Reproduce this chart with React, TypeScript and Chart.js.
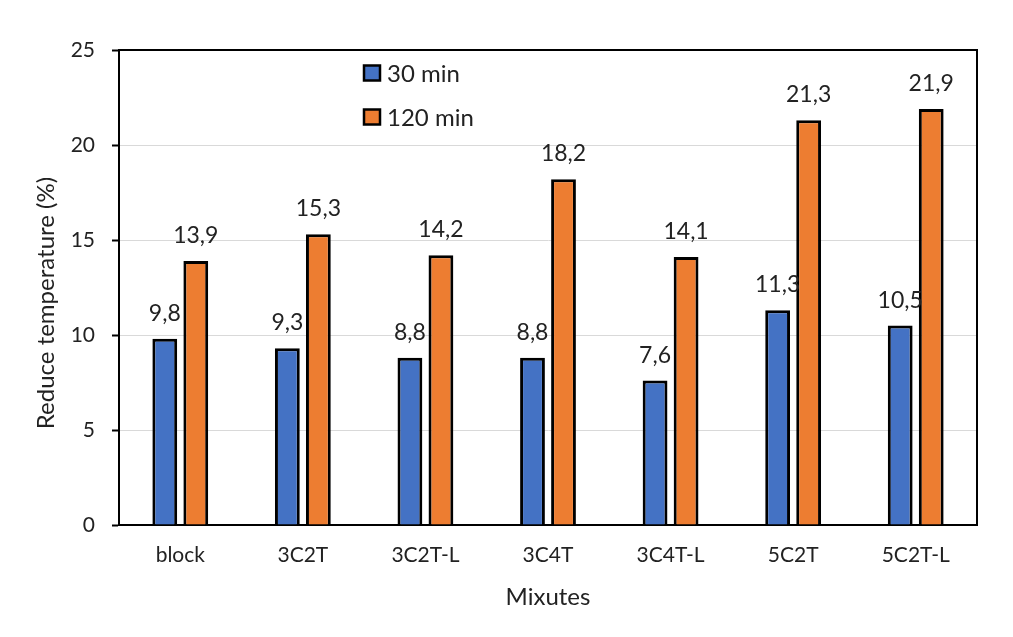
import React, { useEffect, useRef } from 'react';
import { Chart, registerables } from 'chart.js';

Chart.register(...registerables);

// Mixture names along the x axis
const categories = ['block', '3C2T', '3C2T-L', '3C4T', '3C4T-L', '5C2T', '5C2T-L'];
// Temperature reduction (%) after 30 and 120 minutes
const min30 = [9.8, 9.3, 8.8, 8.8, 7.6, 11.3, 10.5];
const min120 = [13.9, 15.3, 14.2, 18.2, 14.1, 21.3, 21.9];
const seriesNames = ['30 min', '120 min'];
const yMin = 0;
const yMax = 25;
const yStep = 5;
const yTitle = 'Reduce temperature (%)';
const xTitle = 'Mixutes';

const FONT = 'Lato, "Open Sans", "DejaVu Sans", sans-serif';
const TEXT = '#222222';
const BLUE = '#4472C4';
const ORANGE = '#ED7D31';

const fmt = (v: number) => v.toFixed(1).replace('.', ',');

// Value labels above each bar
const valueLabels = {
  id: 'valueLabels',
  afterDatasetsDraw(chart: any) {
    const ctx = chart.ctx;
    ctx.save();
    ctx.font = `23px ${FONT}`;
    ctx.fillStyle = TEXT;
    ctx.textAlign = 'center';
    ctx.textBaseline = 'alphabetic';
    chart.data.datasets.forEach((ds: any, i: number) => {
      const meta = chart.getDatasetMeta(i);
      meta.data.forEach((el: any, j: number) => {
        ctx.fillText(fmt(ds.data[j]), el.x, el.y - 18);
      });
    });
    ctx.restore();
  },
};

// Top and right edges of the plot frame, the y-axis title and the in-plot legend
const frameAndLegend = {
  id: 'frameAndLegend',
  afterDraw(chart: any) {
    const { ctx, chartArea: a } = chart;
    ctx.save();
    ctx.strokeStyle = '#000';
    ctx.lineWidth = 2;
    ctx.beginPath();
    ctx.moveTo(a.left, a.top);
    ctx.lineTo(a.right, a.top);
    ctx.lineTo(a.right, a.bottom);
    ctx.stroke();

    // y-axis title
    ctx.save();
    ctx.translate(46, 303);
    ctx.rotate(-Math.PI / 2);
    ctx.font = `24px ${FONT}`;
    ctx.fillStyle = TEXT;
    ctx.textAlign = 'center';
    ctx.textBaseline = 'middle';
    ctx.fillText(yTitle, 0, 0);
    ctx.restore();

    // legend
    const x0 = a.left + 245;
    const rows = [a.top + 23, a.top + 67];
    ctx.font = `24px ${FONT}`;
    ctx.textBaseline = 'middle';
    ctx.textAlign = 'left';
    chart.data.datasets.forEach((ds: any, i: number) => {
      const cy = rows[i];
      ctx.fillStyle = ds.backgroundColor;
      ctx.fillRect(x0, cy - 7.5, 16, 15);
      ctx.lineWidth = 2.5;
      ctx.strokeStyle = '#000';
      ctx.strokeRect(x0, cy - 7.5, 16, 15);
      ctx.fillStyle = TEXT;
      ctx.fillText(ds.label, x0 + 23, cy + 1);
    });
    ctx.restore();
  },
};

export default function App() {
  const ref = useRef<HTMLCanvasElement | null>(null);

  useEffect(() => {
    if (!ref.current) return;
    const chart = new Chart(ref.current, {
      type: 'bar',
      data: {
        labels: categories,
        datasets: [
          {
            label: seriesNames[0],
            data: min30,
            backgroundColor: BLUE,
            borderColor: '#000',
            borderWidth: 3,
            categoryPercentage: 0.506,
            barPercentage: 0.8,
          },
          {
            label: seriesNames[1],
            data: min120,
            backgroundColor: ORANGE,
            borderColor: '#000',
            borderWidth: 3,
            categoryPercentage: 0.506,
            barPercentage: 0.8,
          },
        ],
      },
      options: {
        responsive: false,
        animation: false,
        layout: { padding: { left: 0, right: 36, top: 50, bottom: 0 } },
        plugins: {
          legend: { display: false },
          tooltip: { enabled: false },
        },
        scales: {
          x: {
            grid: { display: false, drawTicks: false },
            border: { display: true, color: '#000', width: 2 },
            ticks: {
              color: TEXT,
              font: { family: FONT, size: 21 },
              padding: 18,
            },
            title: {
              display: true,
              text: xTitle,
              color: TEXT,
              font: { family: FONT, size: 24 },
              padding: { top: 0, bottom: 25 },
            },
            afterFit(scale: any) {
              scale.height = 112;
            },
          },
          y: {
            min: yMin,
            max: yMax,
            grid: {
              color: '#d9d9d9',
              lineWidth: 1,
              tickLength: 7,
              tickColor: '#000',
              tickWidth: 2,
            },
            border: { display: true, color: '#000', width: 2 },
            ticks: {
              stepSize: yStep,
              color: TEXT,
              font: { family: FONT, size: 21 },
              padding: 17,
            },
            afterFit(scale: any) {
              scale.width = 119;
            },
          },
        },
      },
      plugins: [valueLabels, frameAndLegend],
    });
    return () => chart.destroy();
  }, []);

  return (
    <div style={{ position: 'fixed', left: 0, top: 0, width: 1013, height: 637, background: '#fff' }}>
      <canvas ref={ref} width={1013} height={637} />
    </div>
  );
}
